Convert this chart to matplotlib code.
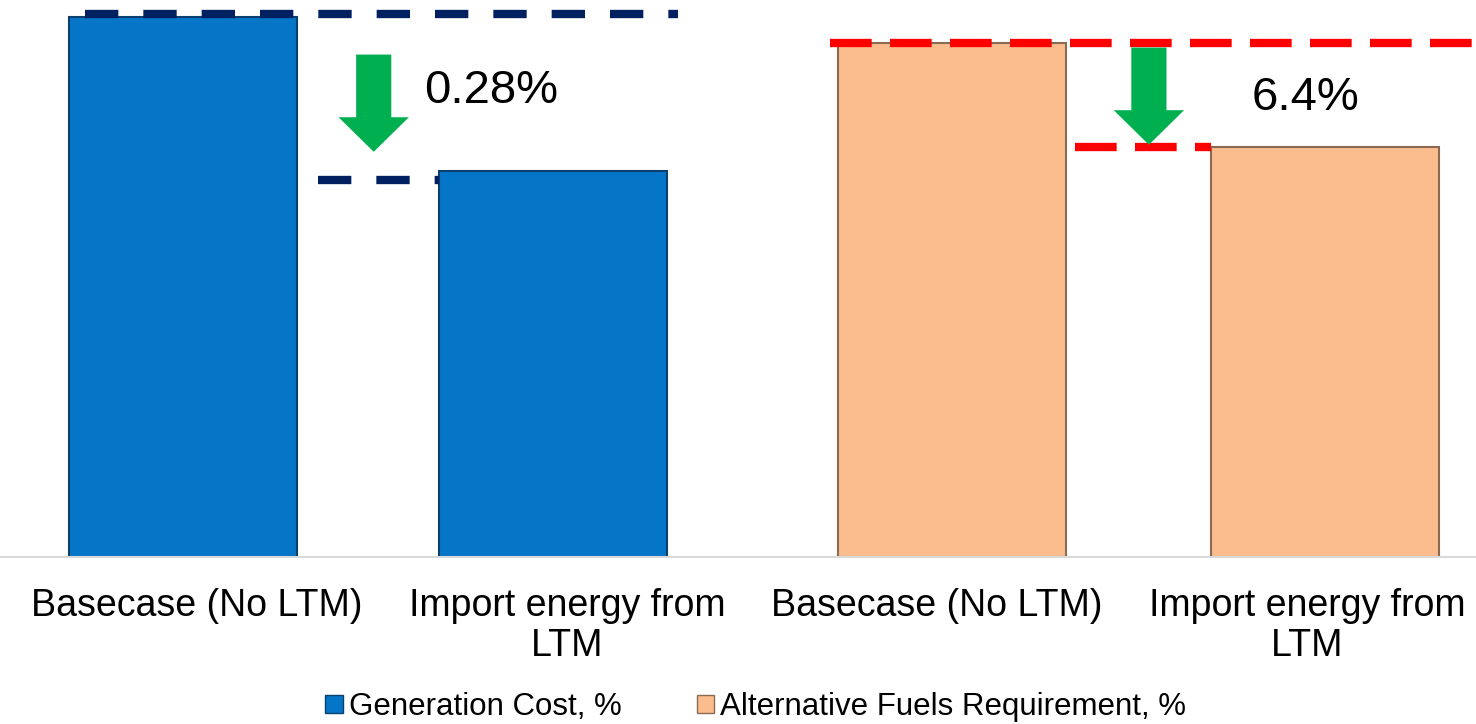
import matplotlib.pyplot as plt
from matplotlib.patches import FancyArrow, Patch

plt.rcParams['font.family'] = ['Liberation Sans', 'DejaVu Sans']

# data (relative index, basecase generation cost = 100)
categories = ["Basecase (No LTM)", "Import energy from\nLTM",
              "Basecase (No LTM)", "Import energy from\nLTM"]
gen_cost = [100.0, 71.5]
alt_fuels = [95.2, 75.9]
gen_label = "Generation Cost, %"
alt_label = "Alternative Fuels Requirement, %"
gen_change = "0.28%"
alt_change = "6.4%"

blue = "#0575C8"
orange = "#FBBD8E"
navy = "#002060"
red = "#FF0000"
green = "#00B050"


def main():
    fig = plt.figure(figsize=(14.76, 7.24), dpi=100)
    ax = fig.add_axes([0, 0.2307, 1, 0.7693])

    w = 0.616
    gen_x = [-0.038, 0.962]
    alt_x = [2.041, 3.049]
    ax.bar(gen_x, gen_cost, width=w, color=blue, edgecolor="#0A3F6E", linewidth=1.5, zorder=2)
    ax.bar(alt_x, alt_fuels, width=w, color=orange, edgecolor="#8A6A50", linewidth=1.5, zorder=2)

    # dashed guide lines
    ax.plot([-0.303, 1.30], [gen_cost[0] + 0.5] * 2, color=navy, lw=6, dashes=(4, 3), zorder=3)
    ax.plot([0.327, gen_x[1] - w / 2], [gen_cost[1] - 1.8] * 2, color=navy, lw=6, dashes=(4, 3), zorder=3)
    ax.plot([1.71, 3.46], [alt_fuels[0]] * 2, color=red, lw=6, dashes=(5, 2.2), zorder=3)
    ax.plot([2.373, alt_x[1] - w / 2], [alt_fuels[1]] * 2, color=red, lw=6, dashes=(5, 2.2), zorder=3)

    # green arrows
    for xc, top, bottom in [(0.478, gen_cost[0] - 7.0, gen_cost[1] + 3.5),
                            (2.573, alt_fuels[0] - 0.9, alt_fuels[1] + 0.4)]:
        ax.add_patch(FancyArrow(xc, top, 0, bottom - top, width=0.095, head_width=0.19,
                                head_length=6.4, length_includes_head=True,
                                color=green, lw=0, zorder=4))

    ax.text(0.614, 86.3, gen_change, fontsize=34, va="center", ha="left")
    ax.text(2.851, 85.0, alt_change, fontsize=34, va="center", ha="left")

    ax.set_xlim(-0.532, 3.457)
    ax.set_ylim(0, 103.1)
    ax.set_xticks(range(len(categories)))
    ax.set_xticklabels(categories, fontsize=27, linespacing=1.15)
    ax.tick_params(axis="x", length=0, pad=22)
    ax.set_yticks([])
    for s in ["top", "right", "left"]:
        ax.spines[s].set_visible(False)
    ax.spines["bottom"].set_color("#D9D9D9")
    ax.spines["bottom"].set_linewidth(1.5)

    handles = [Patch(facecolor=blue, edgecolor="#0A3F6E", label=gen_label),
               Patch(facecolor=orange, edgecolor="#8A6A50", label=alt_label)]
    fig.legend(handles=handles, loc="center", bbox_to_anchor=(0.512, 0.0235), ncol=2,
               frameon=False, fontsize=22.5, handlelength=0.55, handleheight=0.55,
               handletextpad=0.2, columnspacing=2.4)

    fig.savefig("out.png", dpi=100)


if __name__ == "__main__":
    main()
